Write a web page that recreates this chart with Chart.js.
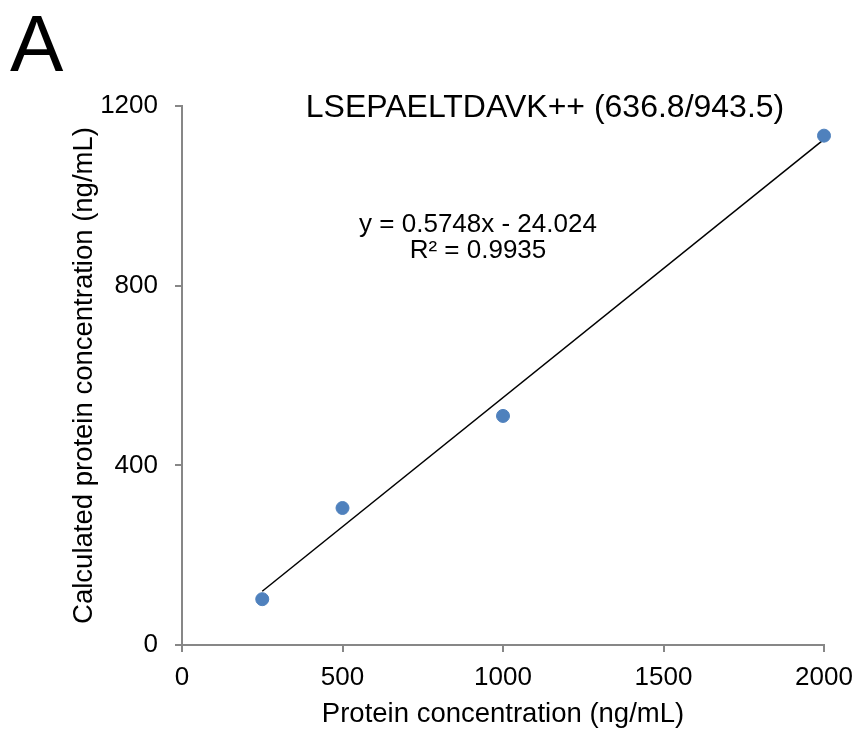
<!DOCTYPE html>
<html>
<head>
<meta charset="utf-8">
<script src="https://cdn.jsdelivr.net/npm/chart.js@4.4.0/dist/chart.umd.min.js"></script>
<style>
  html, body { margin: 0; padding: 0; background: #fff; }
  #wrap { width: 857px; height: 732px; }
</style>
</head>
<body>
<div id="wrap"><canvas id="calChart" width="857" height="732"></canvas></div>
<script>
// ── Data ──
const NOMINAL_CONC = [250, 500, 1000, 2000];     // ng/mL spiked
const CALC_CONC    = [102, 305, 510, 1134];      // ng/mL calculated
const X_TICKS = [0, 500, 1000, 1500, 2000];
const Y_TICKS = [0, 400, 800, 1200];

// Excel trendline shown on the plot
const FIT_SLOPE     = 0.5748;
const FIT_INTERCEPT = -24.024;
const FIT_R2        = 0.9935;

const PANEL_LABEL   = 'A';
const PEPTIDE_TITLE = 'LSEPAELTDAVK++ (636.8/943.5)';
const X_TITLE = 'Protein concentration (ng/mL)';
const Y_TITLE = 'Calculated protein concentration (ng/mL)';

const FONT = '"Liberation Sans", Arial, sans-serif';
const AXIS_GREY = '#878787';
const DOT_BLUE  = '#4f81bd';

// trendline spans the measured range
const fitX = [Math.min(...NOMINAL_CONC), Math.max(...NOMINAL_CONC)];
const fitPoints = fitX.map(x => ({ x, y: FIT_SLOPE * x + FIT_INTERCEPT }));

// ── Text drawn on top: panel letter, peptide title, equation ──
const annotations = {
  id: 'annotations',
  afterDraw(chart) {
    const { ctx, chartArea: a } = chart;
    ctx.save();
    ctx.fillStyle = '#000';
    ctx.textBaseline = 'alphabetic';

    ctx.textAlign = 'left';
    ctx.font = `80px ${FONT}`;
    ctx.fillText(PANEL_LABEL, 10, 71);

    ctx.textAlign = 'center';
    ctx.font = `32px ${FONT}`;
    ctx.fillText(PEPTIDE_TITLE, a.left + 363, a.top + 11);

    ctx.font = `26px ${FONT}`;
    ctx.fillText(`y = ${FIT_SLOPE}x - ${Math.abs(FIT_INTERCEPT).toFixed(3)}`, a.left + 296, a.top + 126);
    ctx.fillText(`R² = ${FIT_R2}`, a.left + 296, a.top + 152);
    ctx.restore();
  }
};

function initCalChart() {
  const ctx = document.getElementById('calChart').getContext('2d');

  new Chart(ctx, {
    type: 'scatter',
    data: {
      datasets: [
        {
          data: NOMINAL_CONC.map((x, i) => ({ x, y: CALC_CONC[i] })),
          backgroundColor: DOT_BLUE,
          borderColor: DOT_BLUE,
          pointRadius: 6.5,
          pointHoverRadius: 6.5,
          clip: false,
          order: 1,
        },
        {
          type: 'line',
          data: fitPoints,
          borderColor: '#000',
          borderWidth: 1.5,
          pointRadius: 0,
          fill: false,
          clip: false,
          order: 2,
        }
      ]
    },
    options: {
      responsive: false,
      animation: false,
      layout: { padding: { left: 0, top: 106, right: 33, bottom: 0 } },
      plugins: {
        legend: { display: false },
        tooltip: { enabled: false },
      },
      scales: {
        x: {
          type: 'linear',
          min: X_TICKS[0], max: X_TICKS[X_TICKS.length - 1],
          afterBuildTicks: s => { s.ticks = X_TICKS.map(value => ({ value })); },
          afterFit: s => { s.height = 87; s.paddingLeft = 0; s.paddingRight = 0; },
          grid: { drawOnChartArea: false, tickLength: 7, color: AXIS_GREY, lineWidth: 2 },
          border: { color: AXIS_GREY, width: 2 },
          ticks: { color: '#000', padding: 10, maxRotation: 0, callback: v => String(v), font: { family: FONT, size: 26 } },
          title: { display: true, text: X_TITLE, color: '#000', padding: { top: 0, bottom: 1 }, font: { family: FONT, size: 27.5 } },
        },
        y: {
          type: 'linear',
          min: Y_TICKS[0], max: Y_TICKS[Y_TICKS.length - 1],
          afterBuildTicks: s => { s.ticks = Y_TICKS.map(value => ({ value })); },
          afterFit: s => { s.width = 182; s.paddingTop = 0; s.paddingBottom = 0; },
          grid: { drawOnChartArea: false, tickLength: 7, color: AXIS_GREY, lineWidth: 2 },
          border: { color: AXIS_GREY, width: 2 },
          ticks: { color: '#000', padding: 17, callback: v => String(v), font: { family: FONT, size: 26 } },
          title: { display: true, text: Y_TITLE, color: '#000', padding: { top: 68, bottom: 0 }, font: { family: FONT, size: 27.5 } },
        }
      }
    },
    plugins: [annotations]
  });
}

document.addEventListener('DOMContentLoaded', initCalChart);
</script>
</body>
</html>
